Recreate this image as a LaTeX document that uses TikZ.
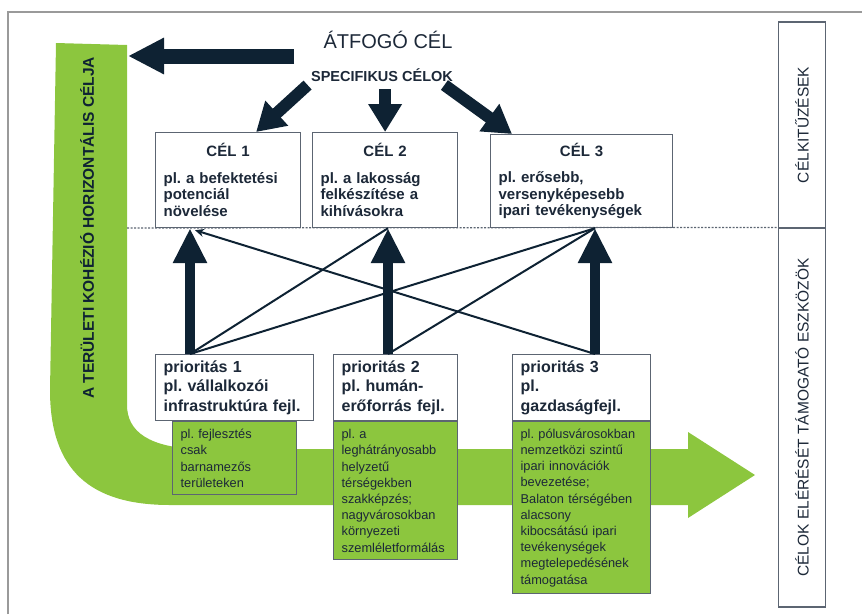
\documentclass[tikz,border=0pt]{standalone}
\usepackage{fontspec}
\setmainfont{Liberation Sans}
\frenchspacing
\usetikzlibrary{arrows.meta, positioning, calc}
\definecolor{NavyA}{HTML}{0E2233}
\definecolor{LeafG}{HTML}{8CC63E}
\definecolor{EdgeG}{HTML}{5C6572}
\definecolor{TextN}{HTML}{1C2838}
\definecolor{FrameG}{HTML}{9A9A9A}
\tikzset{
  celbox/.style={draw=EdgeG, line width=1.2pt, fill=white, anchor=north west,
    minimum height=95pt, inner xsep=8pt, inner ysep=0pt, text=TextN,
    font=\fontsize{15}{16.5}\selectfont\bfseries},
  priobox/.style={draw=EdgeG, line width=1.2pt, fill=white, anchor=north west,
    minimum height=66pt, inner xsep=8pt, align=left, text=TextN,
    font=\fontsize{16}{19.5}\selectfont\bfseries},
  eszkbox/.style={draw=EdgeG, line width=1.2pt, fill=LeafG, inner xsep=8pt,
    align=left, text=TextN, font=\fontsize{12.8}{16.2}\selectfont},
  sidebox/.style={draw=EdgeG, line width=1.2pt, rotate=90, minimum height=47pt,
    text=TextN, font=\fontsize{15.5}{18}\selectfont},
  bigarr/.style={draw=NavyA, line width=15pt, -{Triangle[length=36pt, width=34pt]}},
  midarr/.style={draw=NavyA, line width=12pt, -{Triangle[length=28pt, width=32pt]}},
  uparr/.style={draw=NavyA, line width=10pt, -{Triangle[length=35pt, width=32pt]}},
  thinline/.style={draw=NavyA, line width=2pt},
  thinarr/.style={thinline, -{Stealth[length=9pt, width=8pt]}},
  sepline/.style={draw=EdgeG, line width=1.2pt, dash pattern=on 2pt off 1.5pt},
  frameline/.style={draw=FrameG, line width=2pt},
}

\begin{document}
\begin{tikzpicture}[x=1pt, y=-1pt, node distance=0pt]
  \useasboundingbox (0,0) rectangle (862,614);
  \draw[frameline] (8,614) -- (8,12) -- (862,12);

  \fill[LeafG] (56,43) -- (127,45) -- (127,405)
    .. controls (127,432) and (150,448) .. (200,449) -- (688,449)
    -- (688,432) -- (755,475) -- (688,518) -- (688,505) -- (170,505)
    .. controls (90,505) and (50,470) .. (50,390) -- cycle;
  \node[rotate=90, text=NavyA, font=\fontsize{15.5}{18}\selectfont\bfseries] (cohesion) at (87,228)
    {A TERÜLETI KOHÉZIÓ HORIZONTÁLIS CÉLJA};

  \node[text=TextN, font=\fontsize{20}{24}\selectfont] (atfogo) at (388,40) {ÁTFOGÓ CÉL};
  \node[text=TextN, font=\fontsize{14.5}{17}\selectfont\bfseries] (spec) at (382,75) {SPECIFIKUS CÉLOK};

  \node[celbox, text width=129pt] (cel1) at (155,132)
    {{\centering CÉL 1\par}\vspace{10pt}{\raggedright pl. a befektetési\\potenciál\\növelése\par}};
  \node[celbox, text width=129pt] (cel2) at (312,132)
    {{\centering CÉL 2\par}\vspace{10pt}{\raggedright pl. a lakosság\\felkészítése a\\kihívásokra\par}};
  \node[celbox, text width=166pt, minimum height=93pt] (cel3) at (490,134)
    {{\centering CÉL 3\par}\vspace{10pt}{\raggedright pl. erősebb,\\versenyképesebb\\ipari tevékenységek\par}};

  \node[sidebox, minimum width=206pt] (goals) at (802,125) {CÉLKITŰZÉSEK};
  \node[sidebox, minimum width=379pt] (tools) at (802,417.5) {CÉLOK ELÉRÉSÉT TÁMOGATÓ ESZKÖZÖK};
  \coordinate (sepstart) at (127,228);
  \draw[sepline] (sepstart) -- (tools.north east);

  \node[priobox, text width=142pt] (prio1) at (155,354) {prioritás 1\\pl. vállalkozói\\infrastruktúra fejl.};
  \node[priobox, text width=108pt] (prio2) at (333,354) {prioritás 2\\pl. humán-\\erőforrás fejl.};
  \node[priobox, text width=122pt] (prio3) at (512,354) {prioritás 3\\pl.\\gazdaságfejl.};

  \node[eszkbox, text width=108pt, minimum height=73pt, below=of prio1] (eszk1)
    {pl. fejlesztés\\csak\\barnamezős\\területeken};
  \node[eszkbox, text width=108pt, minimum height=138pt, below=of prio2] (eszk2)
    {pl. a\\leghátrányosabb\\helyzetű\\térségekben\\szakképzés;\\nagyvárosokban\\környezeti\\szemléletformálás};
  \node[eszkbox, text width=122pt, minimum height=172pt, below=of prio3] (eszk3)
    {pl. pólusvárosokban\\nemzetközi szintű\\ipari innovációk\\bevezetése;\\Balaton térségében\\alacsony\\kibocsátású ipari\\tevékenységek\\megtelepedésének\\támogatása};

  \coordinate (bandtip) at (128,56);
  \draw[bigarr] ([shift={(-26pt,-16pt)}]atfogo.west) -- (bandtip);
  \draw[midarr] (spec.south west) -- ([xshift=28pt]cel1.north);
  \draw[midarr] ([yshift=-4pt]cel2.north |- spec.south) -- (cel2.north);
  \draw[midarr] ([xshift=-12pt]spec.south east) -- ([xshift=22pt]cel3.north west);

  \coordinate (p1) at ([xshift=35pt]prio1.north west);
  \coordinate (p2) at ([xshift=55pt]prio2.north west);
  \coordinate (p3) at ([xshift=83pt]prio3.north west);
  \coordinate (c1) at (p1 |- cel1.south);
  \coordinate (c2) at (p2 |- cel2.south);
  \coordinate (c3) at (p3 |- cel3.south);
  \draw[thinline] (p1) -- (c2);
  \draw[thinline] (p1) -- (c3);
  \draw[thinline] (p2) -- (c3);
  \draw[thinarr] (p3) -- ([shift={(5pt,-2pt)}]c1);
  \draw[uparr] (p1) -- (c1);
  \draw[uparr] (p2) -- (c2);
  \draw[uparr] (p3) -- (c3);
\end{tikzpicture}
\end{document}
